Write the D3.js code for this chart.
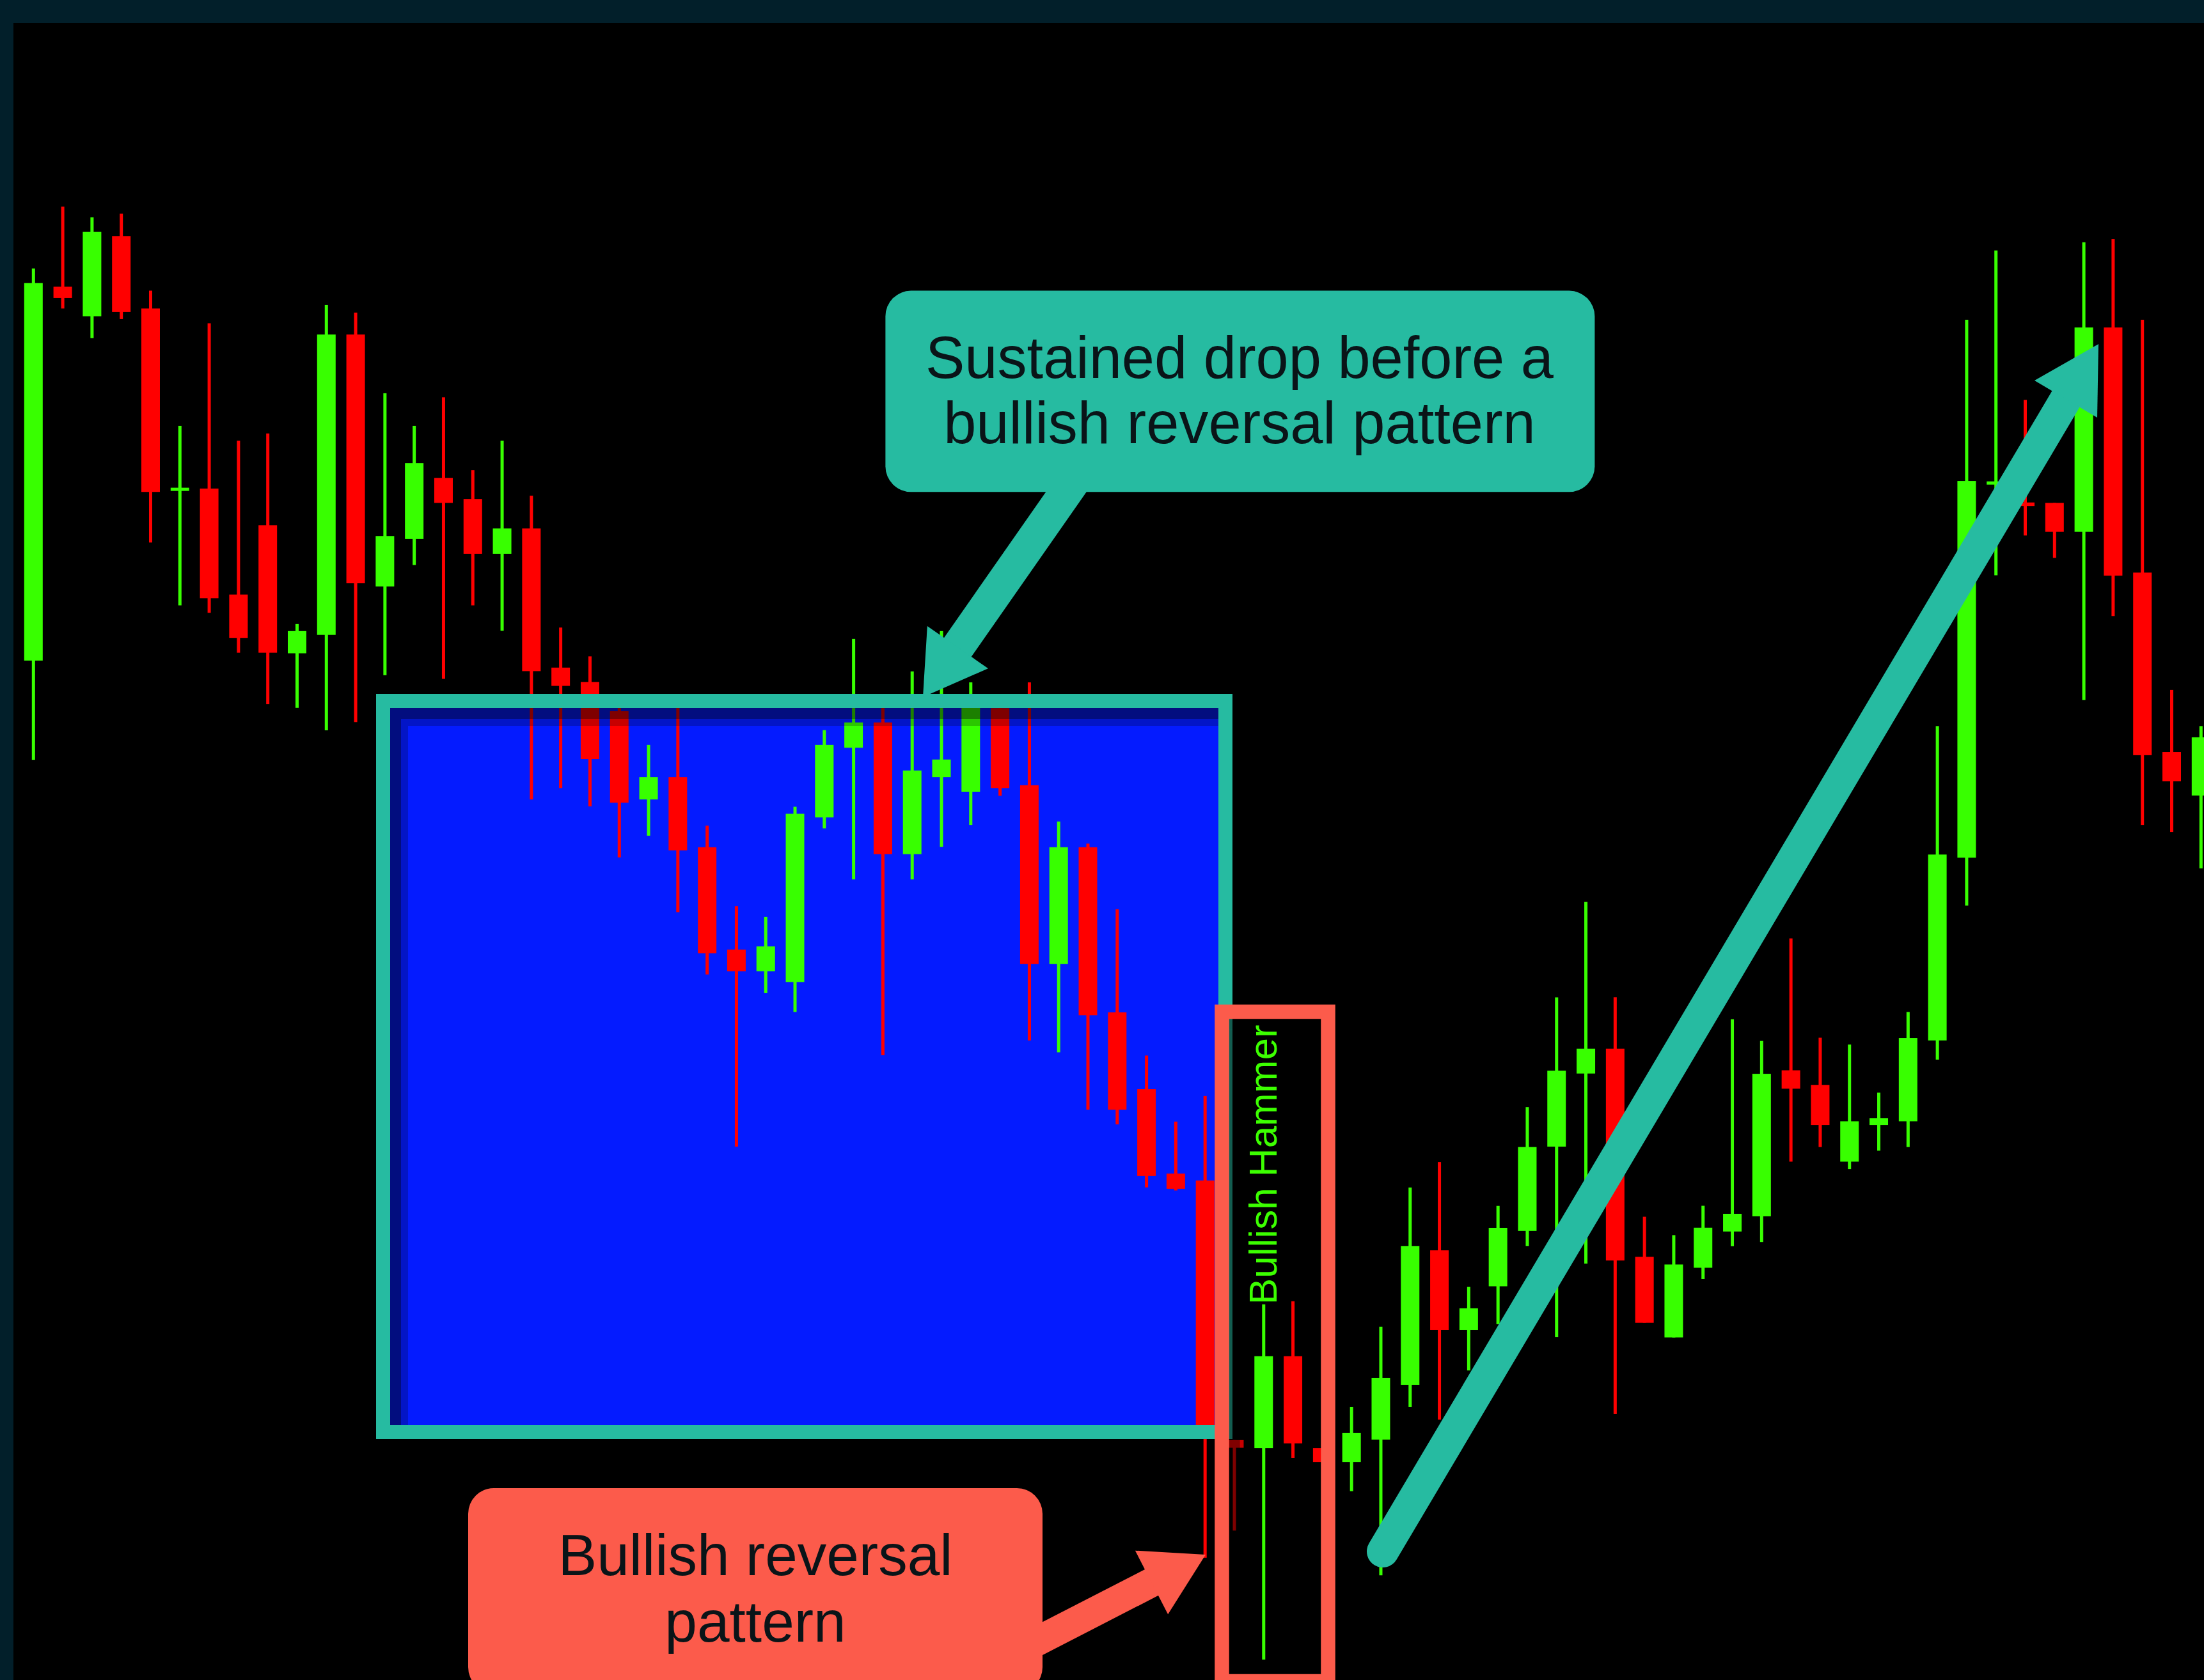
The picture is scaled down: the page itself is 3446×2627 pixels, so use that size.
<!DOCTYPE html>
<html>
<head>
<meta charset="utf-8">
<script src="https://cdn.jsdelivr.net/npm/d3@7"></script>
<style>
    html, body { margin: 0; padding: 0; background: #021f2a; overflow: hidden; }
    svg { display: block; }
</style>
</head>
<body>
<svg class="candle-chart"></svg>
<script>
// OHLC per bar (bar index = position on the time axis)
const opens = [153.00, 179.60, 177.50, 183.20, 178.05, 165.10, 165.24, 157.70, 162.63, 153.52,
    154.83, 176.20, 158.27, 161.65, 166.00, 164.50, 160.60, 162.40, 152.50, 151.48,
    149.40, 143.12, 144.71, 139.72, 132.44, 130.90, 130.12, 141.84, 146.80, 148.60,
    139.23, 144.71, 143.67, 149.62, 144.13, 131.42, 139.72, 127.97, 122.51, 116.50,
    116.01, 97.54, 96.98, 103.51, 96.98, 95.98, 97.57, 101.45, 111.04, 105.36,
    108.48, 112.42, 118.42, 123.62, 125.39, 110.58, 104.84, 109.80, 112.38, 113.46,
    123.85, 122.80, 117.35, 119.96, 120.22, 125.97, 138.98, 165.55, 164.25, 164.22,
    162.16, 176.70, 159.26, 146.49, 143.40];
const highs = [180.90, 185.30, 184.54, 184.80, 179.32, 169.70, 177.00, 168.65, 169.16, 155.60,
    178.30, 177.76, 172.02, 169.70, 171.73, 166.55, 168.65, 164.73, 155.35, 153.30,
    150.50, 147.00, 150.00, 141.26, 135.52, 134.76, 142.60, 148.05, 154.55, 150.20,
    152.23, 155.10, 151.45, 150.50, 151.45, 141.55, 139.98, 135.31, 124.90, 120.20,
    122.02, 97.54, 107.20, 107.42, 96.98, 99.90, 105.60, 115.51, 117.32, 108.45,
    114.20, 121.23, 129.04, 135.84, 129.05, 113.43, 112.12, 114.21, 127.48, 125.94,
    133.23, 126.17, 125.68, 122.26, 128.00, 148.34, 177.25, 182.18, 171.55, 164.22,
    182.76, 182.98, 177.25, 150.91, 148.34];
const lows = [145.94, 178.05, 175.94, 177.30, 161.40, 156.93, 156.40, 153.56, 149.90, 149.64,
    148.04, 148.62, 151.96, 159.80, 151.70, 156.93, 155.12, 143.12, 143.93, 142.63,
    139.00, 140.54, 135.10, 130.67, 118.42, 129.34, 128.00, 141.06, 137.43, 124.92,
    137.43, 139.75, 141.30, 143.38, 125.97, 125.13, 121.04, 120.00, 115.52, 115.30,
    89.17, 91.10, 81.92, 96.26, 95.98, 93.90, 87.92, 99.90, 99.00, 102.50,
    105.80, 111.35, 104.86, 110.10, 99.40, 105.88, 104.84, 109.00, 111.34, 111.63,
    117.35, 118.39, 116.82, 118.13, 118.39, 124.61, 135.57, 159.07, 161.90, 160.31,
    150.19, 156.17, 141.30, 140.80, 138.22];
const closes = [179.86, 178.80, 183.50, 177.80, 165.00, 165.30, 157.44, 154.60, 153.56, 155.10,
    176.20, 158.50, 161.86, 167.05, 164.22, 160.60, 162.40, 152.25, 151.20, 145.99,
    142.89, 144.71, 139.50, 132.18, 130.90, 132.67, 142.10, 147.00, 148.60, 139.23,
    145.18, 145.96, 149.70, 143.93, 131.42, 139.72, 127.77, 121.04, 116.33, 115.42,
    98.20, 97.00, 103.51, 97.30, 95.98, 98.04, 101.95, 111.35, 105.36, 106.92,
    112.64, 118.39, 123.82, 125.39, 110.32, 105.88, 110.03, 112.65, 113.64, 123.60,
    122.54, 119.96, 120.22, 120.45, 126.15, 139.20, 165.78, 165.75, 164.00, 162.16,
    176.70, 159.04, 146.27, 144.42, 147.54];

// annotation texts
const dropLabel = ["Sustained drop before a", "bullish reversal pattern"];
const reversalLabel = ["Bullish reversal", "pattern"];
const hammerLabel = "Bullish Hammer";

const width = 3446;
const height = 2627;

const GREEN = "#38ff00";
const RED = "#ff0000";
const TEAL = "#26bba1";
const CORAL = "#fc5b4b";

const candles = opens.map((o, i) => ({
    i: i, open: o, high: highs[i], low: lows[i], close: closes[i]
}));

const svg = d3.select(".candle-chart")
    .attr("width", width)
    .attr("height", height);

const x = d3.scaleLinear().domain([0, 74]).range([52.3, 3441.3]);
const y = d3.scaleLinear().domain([200, 80.47]).range([0, height]);

// frame
svg.append("rect").attr("width", width).attr("height", height).attr("fill", "#021f2a");
svg.append("rect").attr("x", 21).attr("y", 36)
    .attr("width", width - 21).attr("height", height - 36).attr("fill", "#000");

// highlighted zone (blue box) - fill goes behind the candles
const zone = { x: 599, y: 1096, w: 1317, h: 1143, sw: 22 };
svg.append("rect")
    .attr("x", zone.x).attr("y", zone.y)
    .attr("width", zone.w).attr("height", zone.h)
    .attr("fill", "#041bff");

// candles
const candleG = svg.append("g").attr("class", "candles");
const bodyW = 29, wickW = 5;
const color = d => d.close >= d.open ? GREEN : RED;

candleG.selectAll("rect.wick")
    .data(candles)
    .join("rect")
    .attr("class", "wick")
    .attr("x", d => x(d.i) - wickW / 2)
    .attr("y", d => y(d.high))
    .attr("width", wickW)
    .attr("height", d => Math.max(y(d.low) - y(d.high), 1))
    .attr("fill", color);

candleG.selectAll("rect.body")
    .data(candles)
    .join("rect")
    .attr("class", "body")
    .attr("x", d => x(d.i) - bodyW / 2)
    .attr("y", d => y(Math.max(d.open, d.close)))
    .attr("width", bodyW)
    .attr("height", d => Math.max(Math.abs(y(d.open) - y(d.close)), 5))
    .attr("fill", color);

// inset shading along top / left inner edge of a box
function innerShade(b) {
    const ix = b.x + b.sw / 2, iy = b.y + b.sw / 2;
    const iw = b.w - b.sw, ih = b.h - b.sw;
    const g = svg.append("g").attr("fill", "#000");
    g.append("rect").attr("x", ix).attr("y", iy).attr("width", iw).attr("height", 17).attr("opacity", 0.5);
    g.append("rect").attr("x", ix).attr("y", iy + 17).attr("width", 17).attr("height", ih - 17).attr("opacity", 0.5);
    g.append("rect").attr("x", ix + 17).attr("y", iy + 17).attr("width", iw - 17).attr("height", 11).attr("opacity", 0.22);
    g.append("rect").attr("x", ix + 17).attr("y", iy + 28).attr("width", 11).attr("height", ih - 28).attr("opacity", 0.22);
}

innerShade(zone);
svg.append("rect")
    .attr("x", zone.x).attr("y", zone.y)
    .attr("width", zone.w).attr("height", zone.h)
    .attr("fill", "none")
    .attr("stroke", TEAL)
    .attr("stroke-width", zone.sw);

// hammer box
const hammer = { x: 1910.5, y: 1582, w: 166, h: 1047, sw: 22.5 };
innerShade(hammer);
svg.append("rect")
    .attr("x", hammer.x).attr("y", hammer.y)
    .attr("width", hammer.w).attr("height", hammer.h)
    .attr("fill", "none")
    .attr("stroke", CORAL)
    .attr("stroke-width", hammer.sw);

svg.append("text")
    .attr("transform", "translate(1996,2040) rotate(-90)")
    .attr("font-family", "'Liberation Sans', Arial, sans-serif")
    .attr("font-size", 62)
    .attr("fill", "#3cff00")
    .text(hammerLabel);

// arrows: shaft from (x1,y1) to tip (x2,y2)
function arrow(x1, y1, x2, y2, shaftW, headW, headL, fill, roundTail) {
    const dx = x2 - x1, dy = y2 - y1;
    const len = Math.hypot(dx, dy);
    const ux = dx / len, uy = dy / len;
    const nx = -uy, ny = ux;
    const bx = x2 - ux * headL, by = y2 - uy * headL;
    const g = svg.append("g");
    g.append("line")
        .attr("x1", x1).attr("y1", y1)
        .attr("x2", bx + ux * 4).attr("y2", by + uy * 4)
        .attr("stroke", fill)
        .attr("stroke-width", shaftW)
        .attr("stroke-linecap", roundTail ? "round" : "butt");
    g.append("path")
        .attr("d", d3.line()([
            [x2, y2],
            [bx + nx * headW / 2, by + ny * headW / 2],
            [bx - nx * headW / 2, by - ny * headW / 2]
        ]) + "Z")
        .attr("fill", fill);
}

arrow(1686, 742, 1443, 1090, 52, 116, 95, TEAL, false);
arrow(2162, 2426, 3281, 538, 50, 114, 100, TEAL, true);
arrow(1605, 2575, 1885, 2431, 46, 112, 95, CORAL, false);

// callout boxes
function callout(b, lines, fill, cx, baselines, size) {
    svg.append("rect")
        .attr("x", b.x).attr("y", b.y)
        .attr("width", b.w).attr("height", b.h)
        .attr("rx", 40).attr("ry", 40)
        .attr("fill", fill);
    svg.append("g")
        .selectAll("text")
        .data(lines)
        .join("text")
        .attr("x", cx)
        .attr("y", (d, i) => baselines[i])
        .attr("text-anchor", "middle")
        .attr("font-family", "'Liberation Sans', Arial, sans-serif")
        .attr("font-size", size)
        .attr("fill", "#0a1418")
        .text(d => d);
}

callout({ x: 1384.4, y: 454.6, w: 1109, h: 314.7 }, dropLabel, TEAL, 1938, [590.7, 693.4], 92);
callout({ x: 732, y: 2327, w: 898, h: 320 }, reversalLabel, CORAL, 1181, [2463, 2567], 91);
</script>
</body>
</html>
